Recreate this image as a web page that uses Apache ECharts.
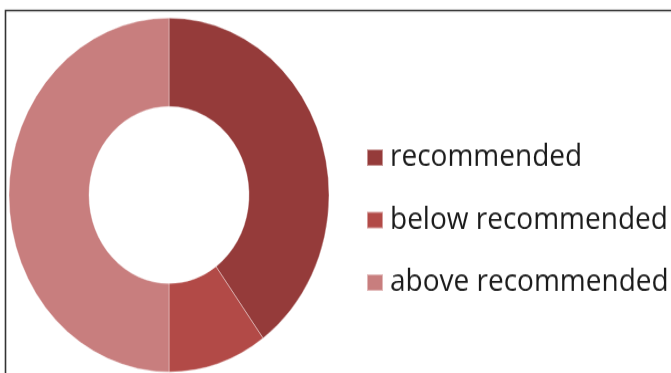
<!DOCTYPE html>
<html>
<head>
<meta charset="utf-8">
<script src="https://cdn.jsdelivr.net/npm/echarts@6/dist/echarts.min.js"></script>
<style>
  html, body { margin: 0; padding: 0; background: #fff; overflow: hidden; }
  #wrap { width: 671px; height: 373px; position: relative; overflow: hidden; }
  #chart { position: absolute; left: 0; top: 0; width: 671px; height: 337px;
           transform: scaleY(1.106); transform-origin: 0 0; }
</style>
</head>
<body>
<div id="wrap"><div id="chart"></div></div>
<script>
const categories = ['recommended', 'below recommended', 'above recommended'];
const values = [40, 10, 50];
const colors = ['#953B3A', '#B24A47', '#C87E7E'];

const chart = echarts.init(document.getElementById('chart'), null, { renderer: 'canvas' });
chart.setOption({
  animation: false,
  color: colors,
  graphic: [{
    type: 'rect',
    shape: { x: 5.5, y: 9.5, width: 800, height: 500 },
    style: { fill: 'none', stroke: '#333', lineWidth: 1.6 },
    silent: true
  }],
  legend: {
    orient: 'vertical',
    left: 366,
    top: 127.5,
    padding: 0,
    itemWidth: 16,
    itemHeight: 15,
    itemGap: 26.5,
    icon: 'rect',
    data: categories,
    textStyle: {
      fontFamily: 'Open Sans',
      fontSize: 28,
      lineHeight: 30,
      color: '#1a1a1a',
      padding: [0, 0, 0, 2]
    }
  },
  series: [{
    type: 'pie',
    center: [169, 176.3],
    radius: [80, 160],
    startAngle: 90,
    clockwise: true,
    label: { show: false },
    labelLine: { show: false },
    itemStyle: { borderColor: 'rgba(255,255,255,0.45)', borderWidth: 0.8 },
    emphasis: { disabled: true },
    data: categories.map((c, i) => ({ name: c, value: values[i] }))
  }]
});
</script>
</body>
</html>
